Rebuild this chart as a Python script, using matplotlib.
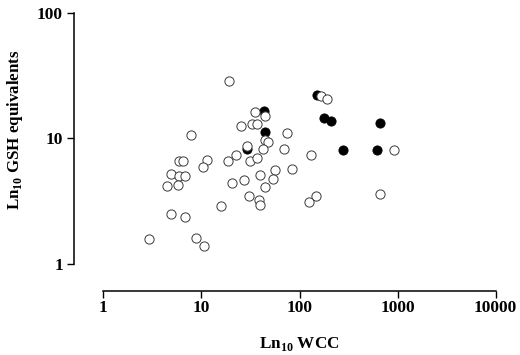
import numpy as np
import matplotlib
matplotlib.use("Agg")
import matplotlib.pyplot as plt
import matplotlib.ticker as mticker

# open circles
wcc_open = [19.3, 35.4, 44.2, 25.5, 32.6, 36.6, 44.2, 47.7, 74.1, 7.83,
            29.4, 42.0, 69.5, 22.4, 18.7, 31.4, 37.1, 5.87, 6.49, 11.5,
            10.5, 4.90, 5.87, 6.88, 4.49, 5.84, 20.5, 27.2, 39.8, 56.3,
            53.3, 83.3, 44.5, 30.3, 38.2, 39.8, 15.7, 4.90, 6.85, 2.94,
            8.85, 10.7, 164.5, 192.0, 131.0, 925.0, 146.0, 125.0, 657.0]
gsh_open = [28.5, 16.3, 15.1, 12.5, 13.1, 13.1, 9.66, 9.39, 11.1, 10.7,
            8.68, 8.26, 8.23, 7.35, 6.62, 6.64, 6.96, 6.56, 6.56, 6.66,
            5.87, 5.16, 5.00, 4.96, 4.16, 4.22, 4.37, 4.67, 5.14, 5.56,
            4.73, 5.71, 4.08, 3.46, 3.23, 2.94, 2.86, 2.48, 2.35, 1.56,
            1.60, 1.39, 21.6, 20.6, 7.36, 8.11, 3.49, 3.09, 3.61]

# filled circles
wcc_filled = [150.0, 178.0, 211.0, 666.0, 277.0, 617.0, 43.0, 44.8, 29.4]
gsh_filled = [22.3, 14.4, 13.8, 13.2, 8.06, 8.06, 16.4, 11.15, 8.18]

x_ticks = [1, 10, 100, 1000, 10000]
y_ticks = [1, 10, 100]

plt.rcParams['font.family'] = ['Liberation Serif', 'DejaVu Serif']
plt.rcParams['font.weight'] = 'bold'
plt.rcParams['mathtext.fontset'] = 'custom'
plt.rcParams['mathtext.rm'] = 'Liberation Serif:bold'
plt.rcParams['mathtext.bf'] = 'Liberation Serif:bold'

fig = plt.figure(figsize=(5.2, 3.55), dpi=100)
ax = fig.add_axes([103.3 / 520, 1 - 263.6 / 355, 392.4 / 520, 250.6 / 355])

ax.scatter(wcc_filled, gsh_filled, s=44, c='black', edgecolors='black',
           linewidths=0.6, zorder=2)
ax.scatter(wcc_open, gsh_open, s=44, c='white', edgecolors='#3a3a3a',
           linewidths=0.7, zorder=3)

ax.set_xscale('log')
ax.set_yscale('log')
ax.set_xlim(1, 10000)
ax.set_ylim(1, 100)
ax.xaxis.set_major_locator(mticker.FixedLocator(x_ticks))
ax.yaxis.set_major_locator(mticker.FixedLocator(y_ticks))
ax.xaxis.set_minor_locator(mticker.NullLocator())
ax.yaxis.set_minor_locator(mticker.NullLocator())
ax.xaxis.set_major_formatter(mticker.FixedFormatter([str(v) for v in x_ticks]))
ax.yaxis.set_major_formatter(mticker.FixedFormatter([str(v) for v in y_ticks]))

for side in ['top', 'right']:
    ax.spines[side].set_visible(False)
ax.spines['left'].set_position(('outward', 21))
ax.spines['bottom'].set_position(('outward', 20))
for side in ['left', 'bottom']:
    ax.spines[side].set_linewidth(1.1)

ax.tick_params(axis='both', direction='out', length=5, width=1.0,
               labelsize=12.5)
ax.tick_params(axis='x', pad=1.5)
ax.tick_params(axis='y', pad=3)
for lbl in ax.get_xticklabels() + ax.get_yticklabels():
    lbl.set_fontweight('bold')

fig.text(299 / 520, 1 - 344 / 355, r'Ln$_{\mathbf{10}}$ WCC', ha='center',
         va='center', fontsize=12.3, fontweight='bold')
fig.text(15 / 520, 1 - 130 / 355, r'Ln$_{\mathbf{10}}$ GSH equivalents',
         ha='center', va='center', rotation=90, fontsize=12.2,
         fontweight='bold')

fig.savefig('out.png', dpi=100)
